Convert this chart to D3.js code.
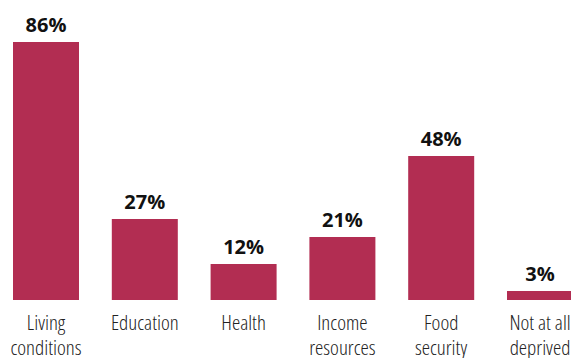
<!DOCTYPE html>
<html>
<head>
<meta charset="utf-8">
<script src="https://cdn.jsdelivr.net/npm/d3@7"></script>
<style>
  html, body { margin: 0; padding: 0; background: #fff; }
  svg { display: block; }
  .value { font-family: "Open Sans", "Noto Sans", sans-serif; font-weight: 700; font-size: 20px; fill: #111; }
  .cat { font-family: "Open Sans", "DejaVu Sans Condensed", sans-serif; font-stretch: 75%; font-weight: 300; font-size: 21px; fill: #222; }
</style>
</head>
<body>
<svg id="chart" width="571" height="358"></svg>
<script>
// Share of households deprived, by dimension
const categories = ["Living conditions", "Education", "Health", "Income resources", "Food security", "Not at all deprived"];
const labelLines = [["Living", "conditions"], ["Education"], ["Health"], ["Income", "resources"], ["Food", "security"], ["Not at all", "deprived"]];
const values = [86, 27, 12, 21, 48, 3];

const svg = d3.select("#chart");
const baseline = 300;

const x = d3.scaleBand()
  .domain(categories)
  .range([13, 573])
  .paddingInner(0.332)
  .paddingOuter(0);

const y = d3.scaleLinear()
  .domain([0, 86])
  .range([baseline, 42]);

svg.selectAll("rect.bar")
  .data(values)
  .join("rect")
  .attr("class", "bar")
  .attr("x", (d, i) => x(categories[i]))
  .attr("y", d => y(d))
  .attr("width", x.bandwidth())
  .attr("height", d => baseline - y(d))
  .attr("fill", "#b22d52");

svg.selectAll("text.value")
  .data(values)
  .join("text")
  .attr("class", "value")
  .attr("x", (d, i) => x(categories[i]) + x.bandwidth() / 2)
  .attr("y", d => y(d) - 10)
  .attr("text-anchor", "middle")
  .text(d => d + "%");

// one text element per label line, wrapped under each bar
const lines = categories.flatMap((c, i) => labelLines[i].map((t, j) => ({ c, t, j })));
svg.selectAll("text.cat")
  .data(lines)
  .join("text")
  .attr("class", "cat")
  .attr("x", d => x(d.c) + x.bandwidth() / 2)
  .attr("y", d => 330 + d.j * 25)
  .attr("text-anchor", "middle")
  .text(d => d.t);
</script>
</body>
</html>
